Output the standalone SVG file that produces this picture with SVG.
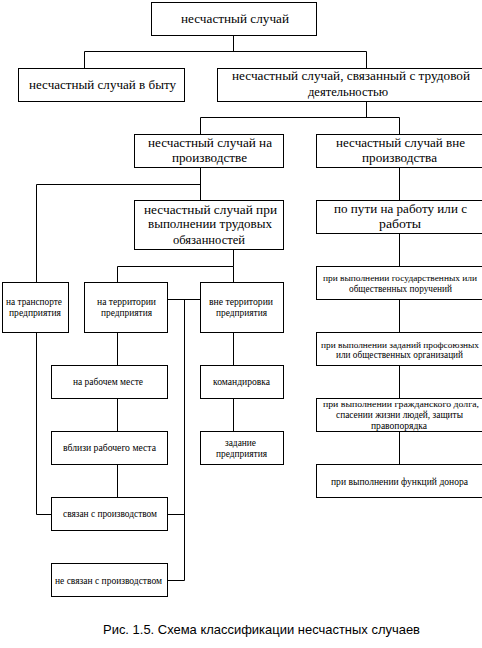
<svg xmlns="http://www.w3.org/2000/svg" width="482" height="648" viewBox="0 0 482 648">
<style>
.b{fill:#fff;stroke:#000;stroke-width:1}
.c{fill:none;stroke:#000;stroke-width:1}
.t{font-size:13px;fill:#000;text-anchor:middle}
.s{font-size:10px;fill:#000;text-anchor:middle}
.n{font-size:9px}
.cap{font-family:"Liberation Sans",Arial,sans-serif;font-size:13.5px;fill:#000}
</style>
<rect width="482" height="648" fill="#fff"/>
<g id="connectors">
<path class="c" d="M233.5 35.5V51.5M84.5 68.5V51.5H366.5V68.5"/>
<path class="c" d="M366.5 101.5V117.5M200.5 134.5V117.5H399.5V134.5"/>
<path class="c" d="M200.5 167.5V200.5M36.5 282.5V184.5H200.5"/>
<path class="c" d="M399.5 167.5V200.5M399.5 233.5V266.5M399.5 299.5V332.5M399.5 365.5V398.5M399.5 431.5V464.5"/>
<path class="c" d="M233.5 249.5V266.5M117.5 282.5V266.5H233.5V282.5"/>
<path class="c" d="M167.5 299.5H200.5M184.5 299.5V580.5H167.5M167.5 514.5H184.5"/>
<path class="c" d="M117.5 332.5V365.5M117.5 398.5V431.5M117.5 464.5V497.5"/>
<path class="c" d="M36.5 332.5V514.5H51.5"/>
<path class="c" d="M233.5 332.5V365.5M233.5 398.5V431.5"/>
</g>
<g font-family="Liberation Serif, Times New Roman, DejaVu Serif, serif">
<g id="n-top"><rect class="b" x="151.5" y="2.5" width="165" height="33"/><text class="t" x="235" y="22.5" textLength="108" lengthAdjust="spacingAndGlyphs">несчастный случай</text></g>
<g id="n-byt"><rect class="b" x="18.5" y="68.5" width="166" height="33"/><text class="t" x="102.5" y="89" textLength="147" lengthAdjust="spacingAndGlyphs">несчастный случай в быту</text></g>
<g id="n-trud"><rect class="b" x="217.5" y="68.5" width="270" height="33"/><text class="t" x="351" y="80" textLength="238" lengthAdjust="spacingAndGlyphs">несчастный случай, связанный с трудовой</text><text class="t" x="348" y="95.5" textLength="80" lengthAdjust="spacingAndGlyphs">деятельностью</text></g>
<g id="n-naproizv"><rect class="b" x="134.5" y="134.5" width="149" height="33"/><text class="t" x="210" y="146.5" textLength="124" lengthAdjust="spacingAndGlyphs">несчастный случай на</text><text class="t" x="209.5" y="162" textLength="75" lengthAdjust="spacingAndGlyphs">производстве</text></g>
<g id="n-vneproizv"><rect class="b" x="316.5" y="134.5" width="170" height="33"/><text class="t" x="400.5" y="146.5" textLength="129" lengthAdjust="spacingAndGlyphs">несчастный случай вне</text><text class="t" x="399.5" y="162" textLength="75" lengthAdjust="spacingAndGlyphs">производства</text></g>
<g id="n-obyaz"><rect class="b" x="134.5" y="200.5" width="149" height="49"/><text class="t" x="210.5" y="213.5" textLength="133" lengthAdjust="spacingAndGlyphs">несчастный случай при</text><text class="t" x="210" y="228" textLength="124" lengthAdjust="spacingAndGlyphs">выполнении трудовых</text><text class="t" x="209" y="243.5" textLength="72" lengthAdjust="spacingAndGlyphs">обязанностей</text></g>
<g id="n-puti"><rect class="b" x="316.5" y="200.5" width="170" height="33"/><text class="t" x="400.5" y="213" textLength="133" lengthAdjust="spacingAndGlyphs">по пути на работу или с</text><text class="t" x="400" y="228" textLength="42" lengthAdjust="spacingAndGlyphs">работы</text></g>
<g id="n-transport"><rect class="b" x="2.5" y="282.5" width="66" height="50"/><text class="s" x="34" y="305" textLength="56" lengthAdjust="spacingAndGlyphs">на транспорте</text><text class="s" x="35" y="316" textLength="52" lengthAdjust="spacingAndGlyphs">предприятия</text></g>
<g id="n-territ"><rect class="b" x="84.5" y="282.5" width="83" height="50"/><text class="s" x="126.5" y="305" textLength="59" lengthAdjust="spacingAndGlyphs">на территории</text><text class="s" x="126.5" y="316" textLength="51" lengthAdjust="spacingAndGlyphs">предприятия</text></g>
<g id="n-vneterrit"><rect class="b" x="200.5" y="282.5" width="83" height="50"/><text class="s" x="241" y="305" textLength="64" lengthAdjust="spacingAndGlyphs">вне территории</text><text class="s" x="241.5" y="316" textLength="51" lengthAdjust="spacingAndGlyphs">предприятия</text></g>
<g id="n-rabmesto"><rect class="b" x="51.5" y="365.5" width="116" height="33"/><text class="s" x="108" y="385" textLength="70" lengthAdjust="spacingAndGlyphs">на рабочем месте</text></g>
<g id="n-vblizi"><rect class="b" x="51.5" y="431.5" width="116" height="33"/><text class="s" x="109.5" y="450.5" textLength="93" lengthAdjust="spacingAndGlyphs">вблизи рабочего места</text></g>
<g id="n-svyazan"><rect class="b" x="51.5" y="497.5" width="116" height="33"/><text class="s" x="110" y="516.5" textLength="94" lengthAdjust="spacingAndGlyphs">связан с производством</text></g>
<g id="n-nesvyazan"><rect class="b" x="51.5" y="563.5" width="116" height="33"/><text class="s" x="108.5" y="583.5" textLength="107" lengthAdjust="spacingAndGlyphs">не связан с производством</text></g>
<g id="n-komandir"><rect class="b" x="200.5" y="365.5" width="83" height="33"/><text class="s" x="241.5" y="384.5" textLength="57" lengthAdjust="spacingAndGlyphs">командировка</text></g>
<g id="n-zadanie"><rect class="b" x="200.5" y="431.5" width="83" height="33"/><text class="s" x="240.5" y="445.5" textLength="31" lengthAdjust="spacingAndGlyphs">задание</text><text class="s" x="241.5" y="456.5" textLength="51" lengthAdjust="spacingAndGlyphs">предприятия</text></g>
<g id="n-gos"><rect class="b" x="316.5" y="266.5" width="170" height="33"/><text class="s n" x="400" y="280.5" textLength="154" lengthAdjust="spacingAndGlyphs">при выполнении государственных или</text><text class="s" x="400.5" y="291.5" textLength="103" lengthAdjust="spacingAndGlyphs">общественных поручений</text></g>
<g id="n-prof"><rect class="b" x="316.5" y="332.5" width="170" height="33"/><text class="s n" x="400" y="347.5" textLength="158" lengthAdjust="spacingAndGlyphs">при выполнении заданий профсоюзных</text><text class="s" x="399.5" y="357.5" textLength="127" lengthAdjust="spacingAndGlyphs">или общественных организаций</text></g>
<g id="n-grazhd"><rect class="b" x="316.5" y="398.5" width="170" height="33"/><text class="s n" x="401" y="406.5" textLength="156" lengthAdjust="spacingAndGlyphs">при выполнении гражданского долга,</text><text class="s" x="399.5" y="417.5" textLength="127" lengthAdjust="spacingAndGlyphs">спасении жизни людей, защиты</text><text class="s" x="399" y="428.5" textLength="56" lengthAdjust="spacingAndGlyphs">правопорядка</text></g>
<g id="n-donor"><rect class="b" x="316.5" y="464.5" width="170" height="33"/><text class="s" x="399.5" y="484.5" textLength="137" lengthAdjust="spacingAndGlyphs">при выполнении функций донора</text></g>
</g>
<text class="cap" x="103" y="633.5" textLength="317" lengthAdjust="spacingAndGlyphs">Рис. 1.5. Схема классификации несчастных случаев</text>
</svg>
